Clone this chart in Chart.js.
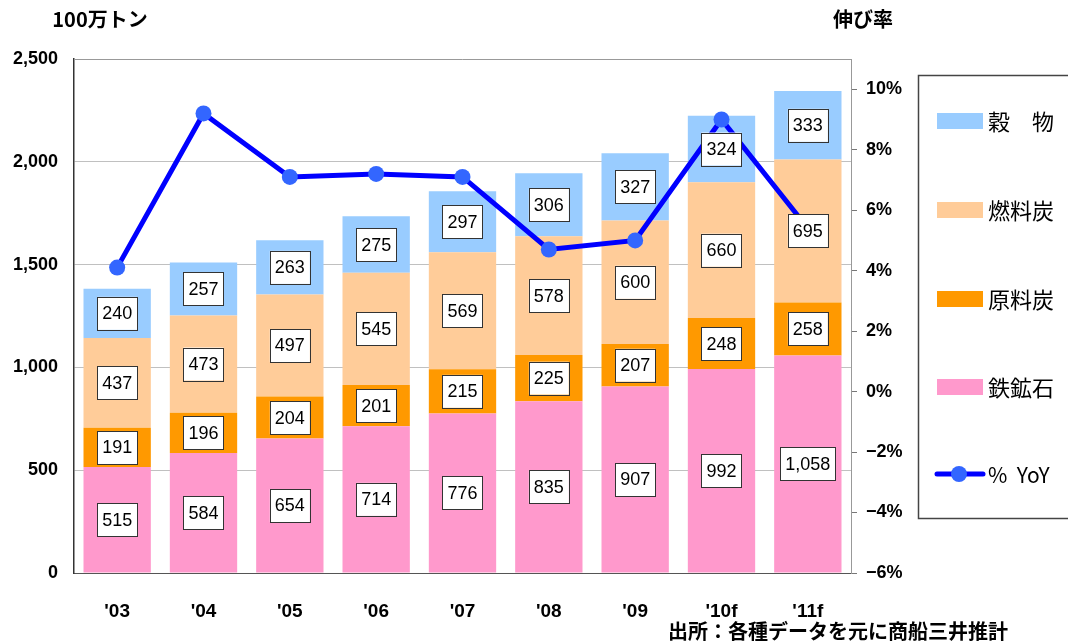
<!DOCTYPE html>
<html>
<head>
<meta charset="utf-8">
<script src="https://cdn.jsdelivr.net/npm/chart.js@4"></script>
<style>
  html, body { margin: 0; padding: 0; background: #fff; }
  #wrap { width: 1068px; height: 643px; position: relative; }
</style>
</head>
<body>
<div id="wrap"><canvas id="chart"></canvas></div>
<script>
// categories and series (100万トン)
const years = ["'03", "'04", "'05", "'06", "'07", "'08", "'09", "'10f", "'11f"];
const ironOre = [515, 584, 654, 714, 776, 835, 907, 992, 1058];
const cokingCoal = [191, 196, 204, 201, 215, 225, 207, 248, 258];
const steamCoal = [437, 473, 497, 545, 569, 578, 600, 660, 695];
const grain = [240, 257, 263, 275, 297, 306, 327, 324, 333];
// 伸び率 (%)
const yoy = [4.1, 9.2, 7.1, 7.2, 7.1, 4.7, 5.0, 9.0, 5.4];

const legendItems = [
    { label: '穀\u3000物', color: '#99CCFF' },
    { label: '燃料炭', color: '#FFCC99' },
    { label: '原料炭', color: '#FF9900' },
    { label: '鉄鉱石', color: '#FF99CC' }
];

const cjk = '"Noto Sans CJK JP", "Noto Sans", sans-serif';
const latin = '"Liberation Sans", Arial, sans-serif';

// value boxes in the middle of each segment
const boxLabels = {
    id: 'boxLabels',
    afterDatasetsDraw(chart) {
        const ctx = chart.ctx;
        ctx.save();
        ctx.font = '18px ' + latin;
        ctx.textAlign = 'center';
        ctx.textBaseline = 'middle';
        chart.data.datasets.forEach((ds, i) => {
            if (ds.type !== 'bar') return;
            chart.getDatasetMeta(i).data.forEach((bar, j) => {
                const txt = ds.data[j].toLocaleString('en-US');
                const w = ctx.measureText(txt).width + 10;
                const h = 33;
                const cy = (bar.y + bar.base) / 2;
                ctx.fillStyle = '#fff';
                ctx.fillRect(bar.x - w / 2, cy - h / 2, w, h);
                ctx.strokeStyle = '#333';
                ctx.lineWidth = 1;
                ctx.strokeRect(Math.round(bar.x - w / 2) + 0.5, Math.round(cy - h / 2) + 0.5, Math.round(w), h);
                ctx.fillStyle = '#000';
                ctx.fillText(txt, bar.x, cy + 1);
            });
        });
        ctx.restore();
    }
};

// titles, frame, legend box, source note
const extras = {
    id: 'extras',
    beforeDatasetsDraw(chart) {
        const { ctx, chartArea: a } = chart;
        ctx.save();
        ctx.strokeStyle = '#999';
        ctx.lineWidth = 1;
        ctx.beginPath();
        ctx.moveTo(a.left, a.top + 0.5);
        ctx.lineTo(a.right + 0.5, a.top + 0.5);
        ctx.lineTo(a.right + 0.5, a.bottom);
        ctx.stroke();
        ctx.restore();
    },
    afterDraw(chart) {
        const ctx = chart.ctx;
        ctx.save();
        ctx.fillStyle = '#000';
        ctx.textBaseline = 'middle';
        ctx.font = 'bold 20px ' + cjk;
        ctx.textAlign = 'center';
        ctx.fillText('100万トン', 100, 19);
        ctx.fillText('伸び率', 863, 19);
        ctx.font = 'bold 20px ' + cjk;
        ctx.textAlign = 'right';
        ctx.fillText('出所：各種データを元に商船三井推計', 1008, 631);

        // legend
        ctx.strokeStyle = '#444';
        ctx.lineWidth = 1.5;
        ctx.strokeRect(918.5, 75.5, 160, 443);
        ctx.textAlign = 'left';
        ctx.font = '22px ' + cjk;
        const ys = [121, 210, 299, 387];
        legendItems.forEach((it, k) => {
            ctx.fillStyle = it.color;
            ctx.fillRect(937, ys[k] - 8, 46, 16);
            ctx.fillStyle = '#000';
            ctx.fillText(it.label, 988, ys[k] + 1);
        });
        ctx.strokeStyle = '#0000FF';
        ctx.lineWidth = 5;
        ctx.lineCap = 'round';
        ctx.beginPath();
        ctx.moveTo(937, 474);
        ctx.lineTo(983, 474);
        ctx.stroke();
        ctx.fillStyle = '#3366FF';
        ctx.beginPath();
        ctx.arc(959, 474, 8, 0, Math.PI * 2);
        ctx.fill();
        ctx.fillStyle = '#000';
        ctx.font = '21px ' + cjk;
        ctx.fillText('%  YoY', 988, 475);
        ctx.restore();
    }
};

const ctx = document.getElementById('chart').getContext('2d');
new Chart(ctx, {
    data: {
        labels: years,
        datasets: [
            { type: 'line', label: '% YoY', data: yoy, yAxisID: 'y2', order: 0,
              borderColor: '#0000FF', borderWidth: 5, pointRadius: 8,
              pointBackgroundColor: '#3366FF', pointBorderWidth: 0, tension: 0 },
            { type: 'bar', label: '鉄鉱石', data: ironOre, backgroundColor: '#FF99CC', order: 1 },
            { type: 'bar', label: '原料炭', data: cokingCoal, backgroundColor: '#FF9900', order: 1 },
            { type: 'bar', label: '燃料炭', data: steamCoal, backgroundColor: '#FFCC99', order: 1 },
            { type: 'bar', label: '穀物', data: grain, backgroundColor: '#99CCFF', order: 1 }
        ]
    },
    options: {
        responsive: true,
        maintainAspectRatio: false,
        animation: false,
        datasets: { bar: { barPercentage: 0.78, categoryPercentage: 1 } },
        layout: { padding: { top: 59 } },
        plugins: { legend: { display: false }, tooltip: { enabled: false } },
        scales: {
            x: {
                stacked: true,
                grid: { display: false },
                border: { color: '#555' },
                ticks: { color: '#000', padding: 19, font: { family: latin, size: 19, weight: 'bold' } },
                afterFit(s) { s.height = 70; }
            },
            y: {
                stacked: true,
                min: 0, max: 2500,
                ticks: { stepSize: 500, color: '#000', padding: 16,
                         font: { family: latin, size: 18, weight: 'bold' },
                         callback: v => v.toLocaleString('en-US') },
                grid: { color: ctx => (ctx.tick && (ctx.tick.value === 0 || ctx.tick.value === 2500)) ? 'rgba(0,0,0,0)' : '#C0C0C0',
                        drawTicks: false },
                border: { color: '#333', width: 1.5 },
                afterFit(s) { s.width = 74; }
            },
            y2: {
                position: 'right',
                min: -6, max: 11,
                ticks: { stepSize: 2, color: '#000', padding: 9,
                         font: { family: latin, size: 18, weight: 'bold' },
                         callback: v => (v < 0 ? '\u2212' + Math.abs(v) : v) + '%' },
                afterBuildTicks(s) { s.ticks = s.ticks.filter(t => t.value <= 10); },
                grid: { drawOnChartArea: false, tickLength: 6, color: '#777' },
                border: { color: '#999' },
                afterFit(s) { s.width = 217; }
            }
        }
    },
    plugins: [extras, boxLabels]
});
</script>
</body>
</html>
